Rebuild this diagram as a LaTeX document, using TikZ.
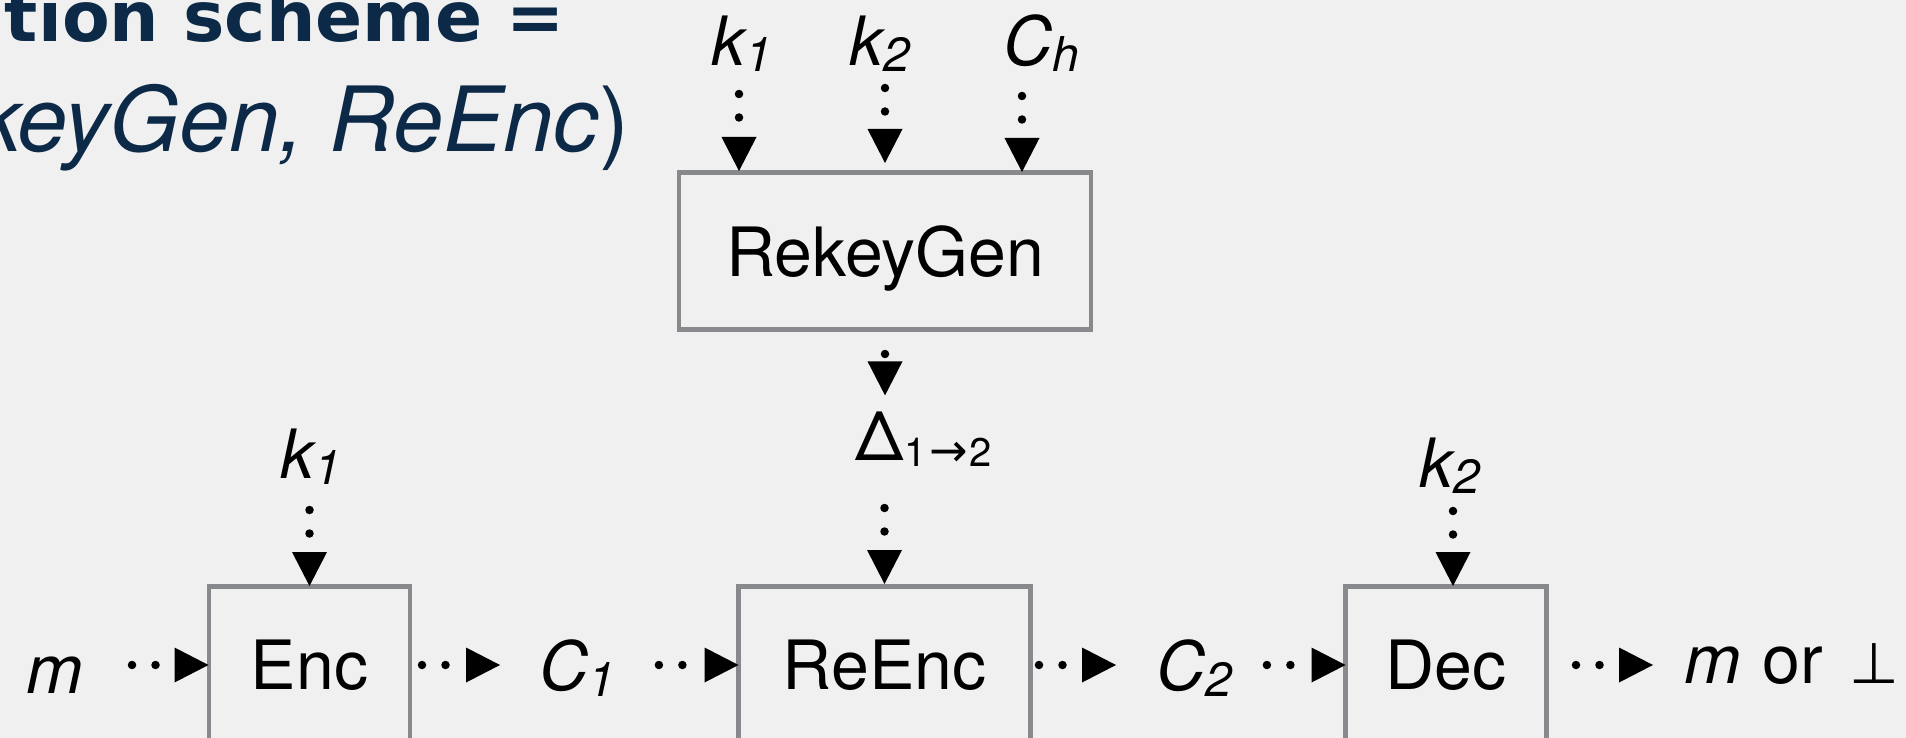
\documentclass[tikz,border=0pt]{standalone}
\usepackage{fontspec}
\usetikzlibrary{arrows.meta}
\setmainfont{TeX Gyre Heros}
\newfontfamily\djv{DejaVu Sans}
\definecolor{bgcol}{RGB}{240,240,240}
\definecolor{boxgray}{RGB}{135,137,140}
\definecolor{navy}{RGB}{12,42,72}
\newcommand\sbs[2][6]{\raisebox{-#1pt}{\fontsize{48}{48}\selectfont #2}}
\tikzset{
  blockbox/.style={draw=boxgray, line width=4.8pt, inner sep=0pt, outer sep=0pt,
    minimum height=157pt, text depth=0pt, font=\fontsize{68}{80}\selectfont},
  lab/.style={inner sep=0pt, outer sep=0pt, anchor=base, font=\fontsize{68}{80}\selectfont},
  flow/.style={line width=8.5pt, line cap=round, dash pattern=on 0pt off 23.5pt,
    -{Triangle[length=34pt,width=35pt,line width=0pt]}},
  titletext/.style={inner sep=0pt, outer sep=0pt, text=navy}
}
\begin{document}
\begin{tikzpicture}[x=1pt,y=-1pt]
\useasboundingbox (0,0) rectangle (1906,738);
\fill[bgcol] (0,0) rectangle (1906,738);
\clip (0,0) rectangle (1906,738);

% title (cut by the frame)
\node[titletext, anchor=base west, font=\djv\bfseries\fontsize{69.5}{80}\selectfont] (t1) at (5,42) {tion scheme =};
\node[titletext, anchor=base east, font=\fontsize{90}{100}\selectfont] (t2) at (629,152) {\itshape keyGen, ReEnc\/\upshape)};

% boxes
\node[blockbox, minimum width=412pt] (rk) at (885,251) {RekeyGen};
\node[blockbox, minimum width=201pt] (enc) at (309.5,665) {Enc};
\node[blockbox, minimum width=292pt] (reenc) at (884.5,665) {ReEnc};
\node[blockbox, minimum width=201pt] (dec) at (1446,665) {Dec};

% labels
\node[lab] (k1t) at (742,65.5) {\itshape k\sbs{1}};
\node[lab] (k2t) at (880,65.5) {\itshape k\sbs{2}};
\node[lab] (cht) at (1041.5,65.5) {\itshape C\sbs{h}};
\node[lab] (dl) at (924,460) {Δ\raisebox{-6pt}{\fontsize{40}{40}\selectfont 1\hspace{3pt}{\djv\fontsize{46}{46}\selectfont →}\hspace{2pt}2}};
\node[lab] (k1e) at (311,478) {\itshape k\sbs{1}};
\node[lab] (k2d) at (1450,487) {\itshape k\sbs{2}};
\node[lab] (m) at (55,693) {\itshape m};
\node[lab] (c1) at (577,690) {\itshape C\sbs{1}};
\node[lab] (c2) at (1194,690) {\itshape C\sbs{2}};
\node[lab, anchor=base west] (out) at (1684,683) {{\itshape m}\hspace{3pt} or\hspace{8pt} {\djv\fontsize{57}{60}\selectfont ⊥}};

% vertical connectors
\draw[flow, shorten <=22.5pt, shorten >=1.5pt] ([xshift=-3pt]k1t.south) -- ([xshift=-3pt]k1t.south |- rk.north);
\draw[flow, shorten <=16.5pt, shorten >=9.5pt] (k2t.south -| rk.north) -- (rk.north);
\draw[flow, shorten <=24.5pt, shorten >=0.5pt] ([xshift=-19.5pt]cht.south) -- ([xshift=-19.5pt]cht.south |- rk.north);
\draw[flow, shorten <=24.5pt, shorten >=16pt] (rk.south) -- (rk.south |- dl.north);
\draw[flow, shorten <=42pt, shorten >=2.5pt] (reenc.north |- dl.south) -- (reenc.north);
\draw[flow, shorten <=26pt, shorten >=0.5pt] (k1e.south -| enc.north) -- (enc.north);
\draw[flow, shorten <=18pt, shorten >=0.5pt] ([xshift=3pt]k2d.south) -- ([xshift=3pt]k2d.south |- dec.north);

% horizontal connectors
\draw[flow, shorten <=48.7pt, shorten >=0.5pt] (m.east |- enc.west) -- (enc.west);
\draw[flow, shorten <=12pt, shorten >=39.1pt] (enc.east) -- (enc.east -| c1.west);
\draw[flow, shorten <=44pt, shorten >=0pt] (c1.east |- reenc.west) -- (reenc.west);
\draw[flow, shorten <=8.5pt, shorten >=40.1pt] (reenc.east) -- (reenc.east -| c2.west);
\draw[flow, shorten <=35pt, shorten >=0pt] (c2.east |- dec.west) -- (dec.west);
\draw[flow, shorten <=29.5pt, shorten >=31pt] (dec.east) -- (dec.east -| out.west);
\end{tikzpicture}
\end{document}
